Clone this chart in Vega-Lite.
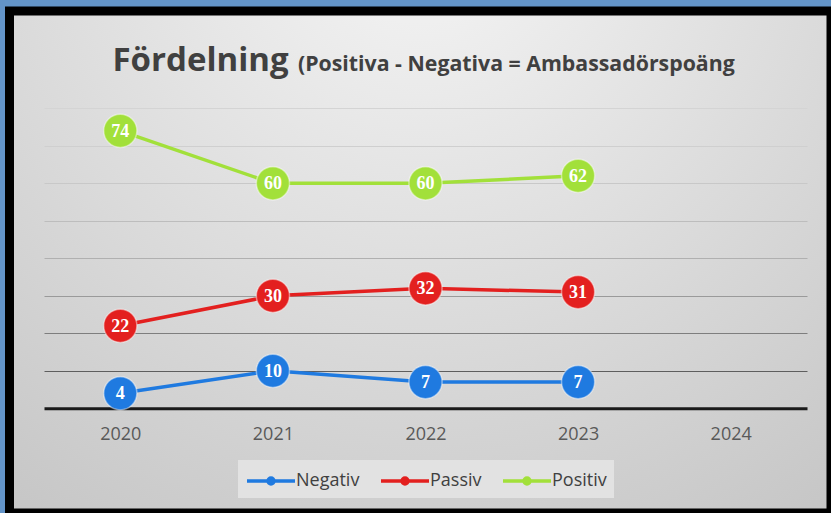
{
  "$schema": "https://vega.github.io/schema/vega-lite/v6.json",
  "width": 821.5,
  "height": 502,
  "autosize": {"type": "none"},
  "padding": {"left": 9.5, "top": 11, "right": 0, "bottom": 0},
  "background": "#6394c8",
  "title": {
    "text": "Fördelning",
    "subtitle": "(Positiva - Negativa = Ambassadörspoäng",
    "anchor": "start",
    "frame": "group",
    "orient": "top",
    "dx": 288.5,
    "offset": -66.7,
    "font": "Open Sans",
    "fontSize": 33,
    "fontWeight": "bold",
    "color": "#404040",
    "subtitleFont": "Open Sans",
    "subtitleFontSize": 21.3,
    "subtitleFontWeight": "bold",
    "subtitleColor": "#404040",
    "subtitlePadding": -23.5,
    "encoding": {"dx": {"value": 103}}
  },
  "view": {
    "fill": {
      "gradient": "radial",
      "x1": 0.5, "y1": 0.08, "r1": 0,
      "x2": 0.5, "y2": 0.08, "r2": 0.95,
      "stops": [
        {"offset": 0, "color": "#f6f6f6"},
        {"offset": 1, "color": "#c2c2c2"}
      ]
    },
    "stroke": "#000000",
    "strokeWidth": 9
  },
  "data": {
    "values": [
      {"year": "2020", "series": "Negativ", "value": 4},
      {"year": "2021", "series": "Negativ", "value": 10},
      {"year": "2022", "series": "Negativ", "value": 7},
      {"year": "2023", "series": "Negativ", "value": 7},
      {"year": "2020", "series": "Passiv", "value": 22},
      {"year": "2021", "series": "Passiv", "value": 30},
      {"year": "2022", "series": "Passiv", "value": 32},
      {"year": "2023", "series": "Passiv", "value": 31},
      {"year": "2020", "series": "Positiv", "value": 74},
      {"year": "2021", "series": "Positiv", "value": 60},
      {"year": "2022", "series": "Positiv", "value": 60},
      {"year": "2023", "series": "Positiv", "value": 62}
    ]
  },
  "encoding": {
    "x": {
      "field": "year",
      "type": "ordinal",
      "scale": {"type": "point", "domain": ["2020", "2021", "2022", "2023", "2024"], "range": [34.5, 797.5], "padding": 0.5},
      "axis": {
        "title": null,
        "orient": "bottom",
        "offset": -104.7,
        "domainColor": "#1a1a1a",
        "domainWidth": 3,
        "ticks": false,
        "tickSize": 0,
        "labelPadding": 17.5,
        "labelFont": "Open Sans",
        "labelFontSize": 18,
        "labelColor": "#595959",
        "labelAngle": 0,
        "grid": false,
        "zindex": 0
      }
    },
    "y": {
      "field": "value",
      "type": "quantitative",
      "scale": {"domain": [0, 80], "range": [397.3, 97.3], "nice": false, "zero": false},
      "axis": {
        "title": null,
        "domain": false,
        "ticks": false,
        "labels": false,
        "grid": true,
        "values": [10, 20, 30, 40, 50, 60, 70, 80],
        "gridWidth": 1,
        "gridColor": {
          "condition": [
            {"test": "datum.value <= 10", "value": "#5e5e5e"},
            {"test": "datum.value <= 20", "value": "#7e7e7e"},
            {"test": "datum.value <= 30", "value": "#9a9a9a"},
            {"test": "datum.value <= 40", "value": "#b0b0b0"},
            {"test": "datum.value <= 50", "value": "#bdbdbd"},
            {"test": "datum.value <= 60", "value": "#c8c8c8"},
            {"test": "datum.value <= 70", "value": "#cfcfcf"}
          ],
          "value": "#d4d4d4"
        },
        "zindex": 0
      }
    }
  },
  "layer": [
    {
      "mark": {"type": "line", "strokeWidth": 3.5},
      "encoding": {
        "color": {
          "field": "series",
          "type": "nominal",
          "scale": {"domain": ["Negativ", "Passiv", "Positiv"], "range": ["#1f7ae0", "#e3201f", "#a2e03a"]},
          "legend": {
            "orient": "none",
            "legendX": 228.5,
            "legendY": 449,
            "direction": "horizontal",
            "title": null,
            "symbolType": "M-1,0H3M0.75,0A0.25,0.25 0 1 1 1.25,0A0.25,0.25 0 1 1 0.75,0",
            "symbolSize": 576,
            "symbolStrokeWidth": 3.5,
            "labelFont": "Open Sans",
            "labelFontSize": 18,
            "labelColor": "#404040",
            "labelOffset": 23,
            "columnPadding": 14,
            "padding": 7,
            "fillColor": "#e2e2e2"
          }
        }
      }
    },
    {
      "mark": {"type": "circle", "size": 1100, "opacity": 1, "stroke": "#ffffff", "strokeOpacity": 0.45, "strokeWidth": 1.5},
      "encoding": {
        "color": {"field": "series", "type": "nominal", "legend": null}
      }
    },
    {
      "mark": {"type": "text", "color": "#ffffff", "font": "Liberation Serif", "fontWeight": "bold", "fontSize": 18, "baseline": "middle", "align": "center", "dy": 1},
      "encoding": {
        "text": {"field": "value", "type": "quantitative"}
      }
    }
  ]
}
